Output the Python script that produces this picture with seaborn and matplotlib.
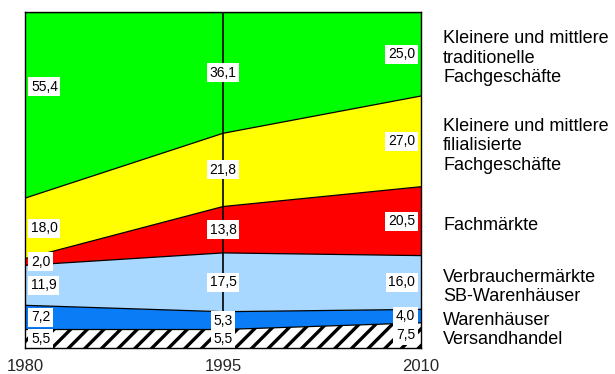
import numpy as np
import pandas as pd
import seaborn as sns
import matplotlib
matplotlib.use("Agg")
import matplotlib.pyplot as plt
import matplotlib.transforms as mtransforms

# Market shares (%) of retail formats, stacked bottom to top
years = [1980, 1995, 2010]
versandhandel = [5.5, 5.5, 7.5]
warenhaeuser = [7.2, 5.3, 4.0]
verbrauchermaerkte = [11.9, 17.5, 16.0]
fachmaerkte = [2.0, 13.8, 20.5]
filialisierte = [18.0, 21.8, 27.0]
traditionelle = [55.4, 36.1, 25.0]

series_names = [
    "Versandhandel",
    "Warenhäuser",
    "Verbrauchermärkte\nSB-Warenhäuser",
    "Fachmärkte",
    "Kleinere und mittlere\nfilialisierte\nFachgeschäfte",
    "Kleinere und mittlere\ntraditionelle\nFachgeschäfte",
]
series_values = [versandhandel, warenhaeuser, verbrauchermaerkte,
                 fachmaerkte, filialisierte, traditionelle]
colors = ["white", "#0a7cf6", "#a8d8ff", "#ff0000", "#ffff00", "#00ff00"]
hatches = ["//", None, None, None, None, None]

sns.set_theme(style="white")
plt.rcParams["font.family"] = ["Liberation Sans", "DejaVu Sans"]
plt.rcParams["hatch.linewidth"] = 2.4
plt.rcParams["hatch.color"] = "black"

df = pd.DataFrame({name: vals for name, vals in zip(series_names, series_values)},
                  index=years)
upper = df.cumsum(axis=1)
lower = upper.shift(1, axis=1).fillna(0)

fig = plt.figure(figsize=(6.15, 3.74), dpi=100)
ax = fig.add_axes([25 / 615, 1 - 348 / 374, 396 / 615, 336 / 374])

for name, color, hatch in zip(series_names, colors, hatches):
    ax.fill_between(df.index, lower[name], upper[name], facecolor=color,
                    hatch=hatch, edgecolor="black" if hatch else "none",
                    linewidth=0, zorder=1)

# boundary lines between the layers
bounds = upper.reset_index(names="year").melt(id_vars="year", var_name="layer",
                                             value_name="share")
sns.lineplot(data=bounds, x="year", y="share", units="layer", estimator=None,
             color="black", linewidth=0.9, ax=ax, zorder=2, legend=False)

ax.axvline(1995, color="black", linewidth=1.2, zorder=3)

# value labels
label_nudge = {(series_names[5], 1980): 5.5}
for name in series_names:
    for yr in years:
        v = df.loc[yr, name]
        yc = (lower.loc[yr, name] + upper.loc[yr, name]) / 2 + label_nudge.get((name, yr), 0)
        if yr == years[0]:
            xpos, ha = yr + 0.45, "left"
        elif yr == years[-1]:
            xpos, ha = yr - 0.45, "right"
        else:
            xpos, ha = yr, "center"
        ax.text(xpos, yc, f"{v:.1f}".replace(".", ","), ha=ha, va="center",
                fontsize=10, color="black", zorder=4,
                bbox=dict(boxstyle="square,pad=0.18", facecolor="white",
                          edgecolor="none"))

# category names to the right of the plot
trans = mtransforms.blended_transform_factory(ax.transAxes, ax.transData)
for name in series_names:
    yc = (lower.loc[years[-1], name] + upper.loc[years[-1], name]) / 2 - 1.3
    ax.text(1.056, yc, name, transform=trans, ha="left", va="center",
            fontsize=13, linespacing=1.2, color="black")

ax.set_xlim(years[0], years[-1])
ax.set_ylim(0, 100)
ax.set_xticks(years)
ax.set_xticklabels([str(y) for y in years], fontsize=12)
ax.set_yticks([])
ax.set_xlabel("")
ax.set_ylabel("")
ax.tick_params(axis="x", length=0, pad=8)
for s in ax.spines.values():
    s.set_color("black")
    s.set_linewidth(1.0)
    s.set_zorder(5)

fig.savefig("out.png", dpi=100)
